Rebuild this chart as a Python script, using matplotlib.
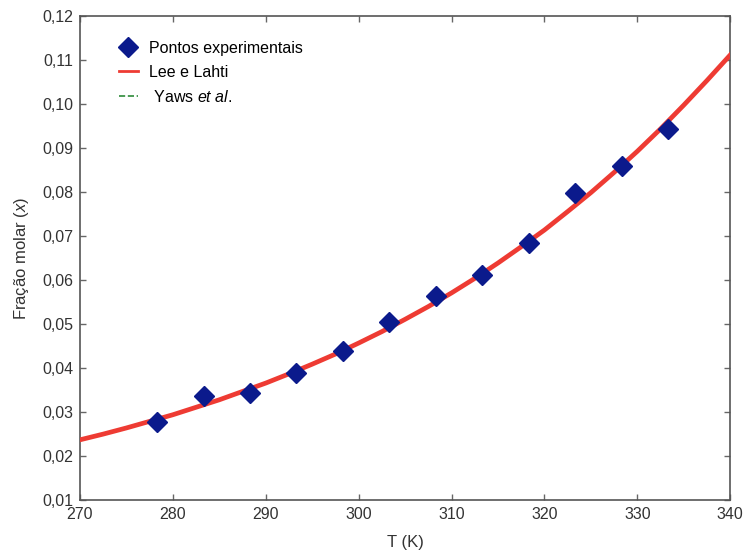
import matplotlib
matplotlib.use("Agg")
import matplotlib.pyplot as plt
from matplotlib.lines import Line2D
from matplotlib.ticker import FuncFormatter

plt.rcParams["font.family"] = ["Liberation Sans", "DejaVu Sans"]
plt.rcParams["mathtext.fontset"] = "custom"
plt.rcParams["mathtext.it"] = "Liberation Sans:italic"
plt.rcParams["mathtext.rm"] = "Liberation Sans"

# experimental points
tExp = [278.3, 283.3, 288.3, 293.3, 298.3, 303.3, 308.3, 313.3, 318.3, 323.3, 328.3, 333.3]
xExp = [0.0278, 0.0336, 0.0343, 0.0389, 0.0439, 0.0505, 0.0564, 0.0611, 0.0684, 0.0798, 0.0859, 0.0943]

# model curves
tFit = [270, 272.5, 275, 277.5, 280, 282.5, 285, 287.5, 290, 292.5, 295, 297.5, 300, 302.5, 305,
        307.5, 310, 312.5, 315, 317.5, 320, 322.5, 325, 327.5, 330, 332.5, 335, 337.5, 340]
xLee = [0.0237, 0.0250, 0.0264, 0.0279, 0.0294, 0.0311, 0.0328, 0.0347, 0.0366, 0.0387, 0.0409,
        0.0432, 0.0457, 0.0483, 0.0511, 0.0540, 0.0571, 0.0604, 0.0639, 0.0676, 0.0714, 0.0756,
        0.0799, 0.0845, 0.0893, 0.0944, 0.0998, 0.1054, 0.1112]
xYaws = list(xLee)

fig = plt.figure(figsize=(7.44, 5.6), dpi=100)
ax = fig.add_axes([0.1075, 0.107, 0.874, 0.864])

ax.plot(tFit, xYaws, "--", color="#2e8b3a", linewidth=1.2, zorder=2)
ax.plot(tFit, xLee, "-", color="#ee3b33", linewidth=3.4, zorder=3)
ax.plot(tExp, xExp, "D", color="#0b1a8c", markersize=10, zorder=4)

ax.set_xlim(270, 340)
ax.set_ylim(0.01, 0.12)
ax.set_xticks(range(270, 341, 10))
ax.set_yticks([0.01 * i for i in range(1, 13)])
ax.yaxis.set_major_formatter(FuncFormatter(lambda v, p: "{:.2f}".format(v).replace(".", ",")))
ax.tick_params(direction="in", length=4, width=1, color="#666666", labelcolor="#333333",
               labelsize=11.5, top=True, right=True, pad=5)
for s in ax.spines.values():
    s.set_color("#555555")
    s.set_linewidth(1.2)

ax.set_xlabel("T (K)", fontsize=12, color="#333333", labelpad=9)
ax.set_ylabel("Fração molar ($x$)", fontsize=12, color="#333333", labelpad=8)

handles = [
    Line2D([], [], marker="D", linestyle="none", color="#0b1a8c", markersize=10),
    Line2D([], [], color="#ee3b33", linewidth=2),
    Line2D([], [], color="#2e8b3a", linewidth=1.2, linestyle="--"),
]
labels = ["Pontos experimentais", "Lee e Lahti", " Yaws $et$ $al.$"]
ax.legend(handles, labels, loc="upper left", bbox_to_anchor=(0.05, 0.962), frameon=False,
          fontsize=11.5, handlelength=1.2, handletextpad=0.7, labelspacing=0.55, borderaxespad=0)

fig.savefig("out.png", dpi=100)
